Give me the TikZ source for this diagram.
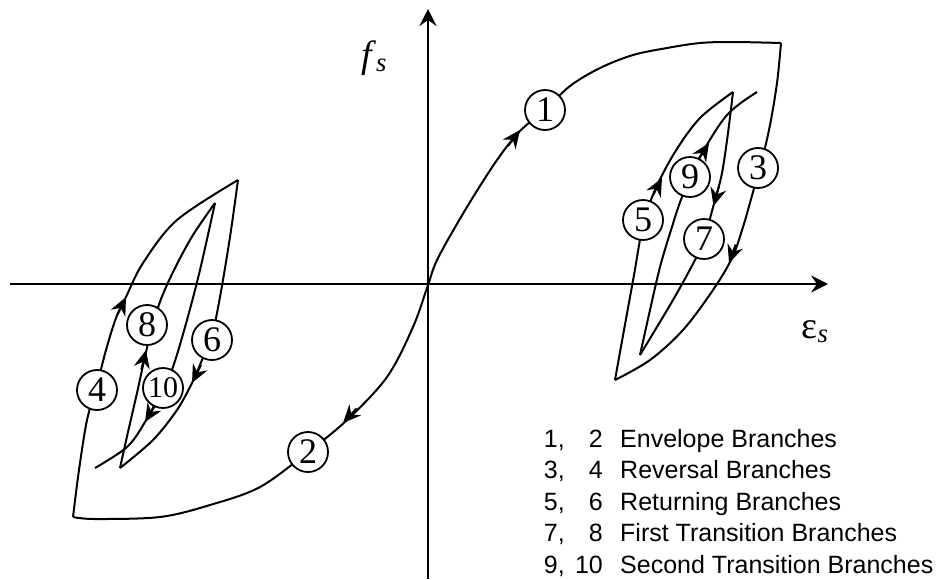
\documentclass[tikz,border=0pt]{standalone}
\usepackage{fontspec}
\setmainfont{Liberation Serif}
\newfontfamily\keyfont{Liberation Sans}
\usetikzlibrary{arrows.meta}

\begin{document}
\begin{tikzpicture}[
  x=1pt, y=-1pt,
  % ── axis style ───────────────────────────────────────────
  axis/.style={line width=2.2pt, -{Stealth[length=17pt,width=17pt,inset=6pt]}},
  % ── branch curves and their arrows ───────────────────────
  branch/.style={line width=2pt, line join=round},
  flow/.style={line width=2pt, -{Stealth[length=18pt,width=16pt,inset=6pt]}},
  % ── circled branch number ────────────────────────────────
  num/.style={circle, draw, line width=1.8pt, fill=white,
              minimum size=40pt, inner sep=0pt,
              font=\fontsize{36}{36}\selectfont},
  % ── axis labels and key ──────────────────────────────────
  axlabel/.style={font=\fontsize{38}{38}\selectfont, inner sep=0pt},
  key/.style={font=\keyfont\fontsize{25}{25}\selectfont, inner sep=0pt}
]
\useasboundingbox (0,0) rectangle (947,579);

%% ── Axes ──
\coordinate (O)  at (428,285);
\coordinate (XL) at (10,284);
\coordinate (XR) at (828,284);
\coordinate (YB) at (428,579);
\coordinate (YT) at (428,9);
\draw[axis] (XL) -- (XR);
\draw[axis] (YB) -- (YT);
\node[axlabel] (fs)  at (374,58)  {\textit{f}\textsubscript{\textit{s}}};
\node[axlabel] (eps) at (815,332) {ε\textsubscript{\textit{s}}};

%% ── Envelope (branches 1 and 2) ──
\draw[branch] plot[smooth, tension=0.55] coordinates {
  (73,517) (95,519) (160,517) (210,505) (260,487) (308,452) (347,420)
  (387,377) (413,327) (428,285) (438,258) (467,207) (497,160) (520,131)
  (545,110) (570,86) (600,68) (633,55) (667,48) (700,43) (733,42) (781,43)};

%% ── Right loop ──
\draw[branch] plot[smooth, tension=0.55] coordinates {
  (781,43) (777,83) (770,125) (762,160) (753,192) (743,227) (732,258)
  (713,290) (683,330) (650,360) (615,380)};
\draw[branch] plot[smooth, tension=0.55] coordinates {
  (615,380) (624,330) (634,275) (643,225) (655,190) (675,152) (700,118) (733,92)};
\draw[branch] plot[smooth, tension=0.55] coordinates {
  (733,92) (728,133) (722,173) (715,200) (704,239) (695,260) (673,300) (640,355)};
\draw[branch] plot[smooth, tension=0.55] coordinates {
  (640,355) (650,310) (660,267) (671,230) (682,197) (700,157) (727,115) (757,92)};

%% ── Left loop ──
\draw[branch] plot[smooth, tension=0.55] coordinates {
  (73,517) (79,470) (87,420) (97,385) (106,350) (116,318) (126,297)
  (143,263) (177,220) (238,180)};
\draw[branch] plot[smooth, tension=0.55] coordinates {
  (238,180) (230,237) (220,297) (212,335) (202,360) (192,383) (177,410)
  (153,440) (120,468)};
\draw[branch] plot[smooth, tension=0.55] coordinates {
  (120,468) (128,432) (137,393) (146,352) (153,325) (161,299) (175,268)
  (193,235) (215,203)};
\draw[branch] plot[smooth, tension=0.55] coordinates {
  (215,203) (200,270) (187,320) (173,367) (163,388) (145,422) (127,447) (95,468)};

%% ── Direction arrows ──
\draw[flow] (508.0,146.0) -- (520,130);   % 1
\draw[flow] (356.6,408.4) -- (343,423);   % 2
\draw[flow] (735.7,244.5) -- (729,263);   % 3
\draw[flow] (117.2,315.0) -- (126,297);   % 4
\draw[flow] (652.7,195.7) -- (662,178);   % 5
\draw[flow] (201.0,365.1) -- (192,383);   % 6
\draw[flow] (718.8,186.8) -- (713.5,206); % 7
\draw[flow] (141.4,369.5) -- (146,350);   % 8
\draw[flow] (698.2,159.8) -- (709,143);   % 9
\draw[flow] (155.4,405.0) -- (145,422);   % 10

%% ── Branch numbers ──
\node[num] (n1)  at (545,110) {1};
\node[num] (n2)  at (308,452) {2};
\node[num] (n3)  at (758,168) {3};
\node[num] (n4)  at (97,390)  {4};
\node[num] (n5)  at (643,220) {5};
\node[num] (n6)  at (212,340) {6};
\node[num] (n7)  at (704,239) {7};
\node[num] (n8)  at (147,325) {8};
\node[num] (n9)  at (690,177) {9};
\node[num, font=\fontsize{30}{30}\selectfont] (n10) at (163,388) {10};

%% ── Key ──
\foreach \a/\b/\t [count=\i, evaluate=\i as \y using 447+(\i-1)*31.5] in
  {{1,}/2/Envelope Branches, {3,}/4/Reversal Branches,
   {5,}/6/Returning Branches, {7,}/8/First Transition Branches,
   {9,}/10/Second Transition Branches}{
  \node[key, anchor=base east] (ka\i) at (565,\y) {\a};
  \node[key, anchor=base east] (kb\i) at (603,\y) {\b};
  \node[key, anchor=base west] (kc\i) at (620,\y) {\t};
}

\end{tikzpicture}
\end{document}
